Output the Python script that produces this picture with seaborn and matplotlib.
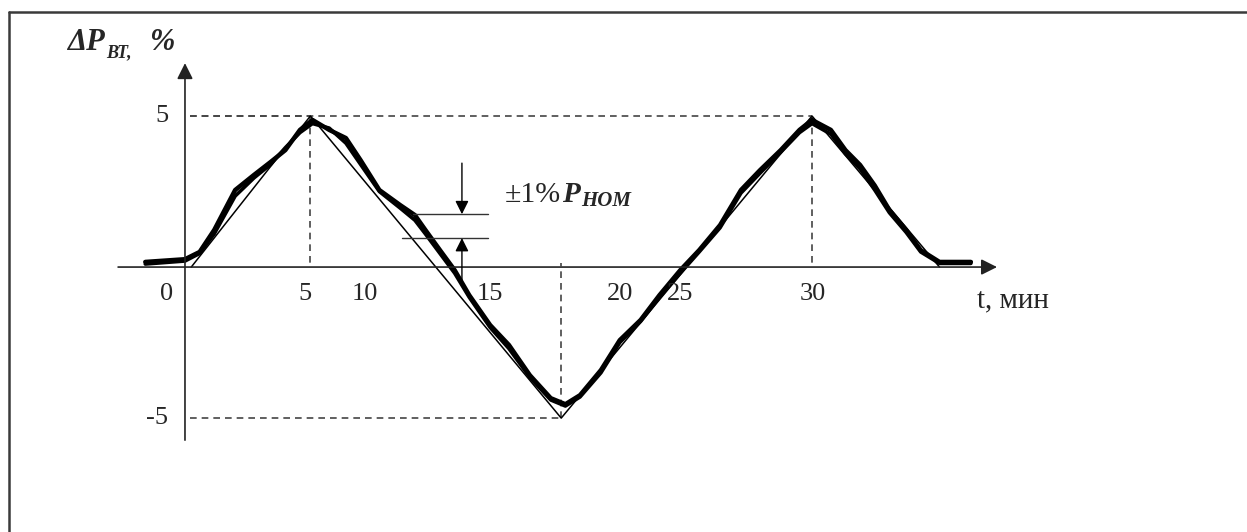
import numpy as np
import pandas as pd
import matplotlib
matplotlib.use("Agg")
import matplotlib.pyplot as plt
from matplotlib.lines import Line2D
import seaborn as sns

# reference triangle (setpoint), t in minutes, dP in %
ref_t = [0.3, 6.0, 18.0, 30.0, 36.1]
ref_p = [0.0, 5.0, -5.0, 5.0, 0.0]

# measured response, two overlapping traces
meas_t = [-1.9, 0.0, 0.7, 1.4, 2.4, 3.3, 4.1, 4.8, 5.5, 6.1, 6.9, 7.7, 8.4, 9.3, 10.3, 11.0,
          11.5, 12.2, 12.9, 13.6, 14.6, 15.5, 16.5, 17.5, 18.2, 18.9, 19.9, 20.8, 21.8, 22.7,
          23.7, 24.6, 25.6, 26.6, 27.5, 28.5, 29.4, 30.0, 30.9, 31.6, 32.3, 33.0, 33.7, 34.5,
          35.2, 36.1, 37.6]
meas_p1 = [0.17, 0.26, 0.5, 1.23, 2.55, 3.05, 3.48, 3.87, 4.54, 4.87, 4.54, 4.27, 3.54, 2.55,
           2.05, 1.72, 1.23, 0.56, -0.1, -0.93, -1.92, -2.58, -3.58, -4.34, -4.54, -4.24, -3.41,
           -2.42, -1.75, -0.93, -0.1, 0.56, 1.39, 2.55, 3.2, 3.87, 4.54, 4.87, 4.54, 3.87, 3.38,
           2.7, 1.89, 1.23, 0.56, 0.17, 0.17]
meas_p2 = [0.1, 0.2, 0.45, 1.1, 2.35, 2.95, 3.4, 3.95, 4.45, 4.75, 4.6, 4.1, 3.4, 2.5,
           1.95, 1.55, 1.1, 0.45, -0.2, -1.0, -2.0, -2.7, -3.65, -4.4, -4.6, -4.3, -3.5,
           -2.5, -1.8, -1.0, -0.2, 0.5, 1.3, 2.45, 3.1, 3.8, 4.45, 4.75, 4.4, 3.75, 3.25,
           2.55, 1.8, 1.15, 0.5, 0.12, 0.12]

x_tick_labels = ["0", "5", "10", "15", "20", "25", "30"]
x_tick_pos = [-0.86, 5.74, 8.61, 14.59, 20.81, 23.68, 30.05]
y_tick_labels = ["5", "-5"]
y_tick_val = [5, -5]

# tolerance band marks (+-1% Pnom)
tol_hi, tol_lo = 1.75, 0.96
tol_t = 13.25

sns.set_style("white")
plt.rcParams['font.family'] = ['Liberation Serif', 'DejaVu Serif']

fig = plt.figure(figsize=(12.47, 5.32), dpi=100)
ax = fig.add_axes([0, 0, 1, 1])
ax.set_xlim(-8.85, 50.81)
ax.set_ylim(-8.77, 8.84)
ax.axis("off")

# frame (only left and top edges visible in the source)
fig.add_artist(Line2D([9 / 1247, 9 / 1247], [0, 1 - 12 / 532], transform=fig.transFigure,
                      color="#3a3a3a", lw=1.8))
fig.add_artist(Line2D([9 / 1247, 1], [1 - 12 / 532, 1 - 12 / 532], transform=fig.transFigure,
                      color="#3a3a3a", lw=1.8))

# axes with arrows
ax.annotate("", xy=(38.85, 0), xytext=(-3.2, 0),
            arrowprops=dict(arrowstyle="-|>", color="#222", lw=1.2, mutation_scale=24,
                            shrinkA=0, shrinkB=0))
ax.annotate("", xy=(0, 6.75), xytext=(0, -5.73),
            arrowprops=dict(arrowstyle="-|>", color="#222", lw=1.2, mutation_scale=24,
                            shrinkA=0, shrinkB=0))

# dashed guides at peaks
dash = dict(color="#444", lw=1.2, ls=(0, (4, 3)))
peaks = pd.DataFrame({"t": ref_t, "p": ref_p})
for _, r in peaks.iloc[1:4].iterrows():
    ax.plot([0.25, r.t], [r.p, r.p], **dash)
    ax.plot([r.t, r.t], [r.p, 0.15 if r.p < 0 else 0], **dash)

# setpoint and measured curves
sns.lineplot(x=ref_t, y=ref_p, ax=ax, color="black", lw=1.1, estimator=None, sort=False)
sns.lineplot(x=meas_t, y=meas_p1, ax=ax, color="black", lw=3.2, estimator=None, sort=False)
sns.lineplot(x=meas_t, y=meas_p2, ax=ax, color="black", lw=2.6, estimator=None, sort=False)

# tolerance annotation
ax.plot([10.9, 14.5], [tol_hi, tol_hi], color="#333", lw=1.0)
ax.plot([10.38, 14.5], [tol_lo, tol_lo], color="#333", lw=1.0)
ax.annotate("", xy=(tol_t, tol_hi), xytext=(tol_t, 3.44),
            arrowprops=dict(arrowstyle="-|>", color="black", lw=1.0, mutation_scale=20,
                            shrinkA=0, shrinkB=0))
ax.annotate("", xy=(tol_t, tol_lo), xytext=(tol_t, -0.43),
            arrowprops=dict(arrowstyle="-|>", color="black", lw=1.0, mutation_scale=20,
                            shrinkA=0, shrinkB=0))

# tick labels
for lab, xp in zip(x_tick_labels, x_tick_pos):
    ax.text(xp, -0.89, lab, ha="center", va="center", fontsize=19)
for lab, yv in zip(y_tick_labels, y_tick_val):
    ax.text(-0.8, yv, lab, ha="right", va="center", fontsize=19)

# axis titles
ax.text(-5.65, 7.19, "ΔP", ha="left", va="baseline", fontsize=22, fontweight="bold", style="italic")
ax.text(-3.75, 6.95, "ВТ,", ha="left", va="baseline", fontsize=13, fontweight="bold", style="italic")
ax.text(-1.7, 7.19, "%", ha="left", va="baseline", fontsize=22, fontweight="bold", style="italic")
ax.text(37.9, -1.1, "t, мин", ha="left", va="center", fontsize=21)

ax.text(15.3, 2.15, "±1%", ha="left", va="baseline", fontsize=21.5)
ax.text(18.05, 2.15, "P", ha="left", va="baseline", fontsize=21, fontweight="bold", style="italic")
ax.text(18.95, 2.03, "НОМ", ha="left", va="baseline", fontsize=15, fontweight="bold", style="italic")

fig.savefig("out.png", dpi=100, facecolor="white")
